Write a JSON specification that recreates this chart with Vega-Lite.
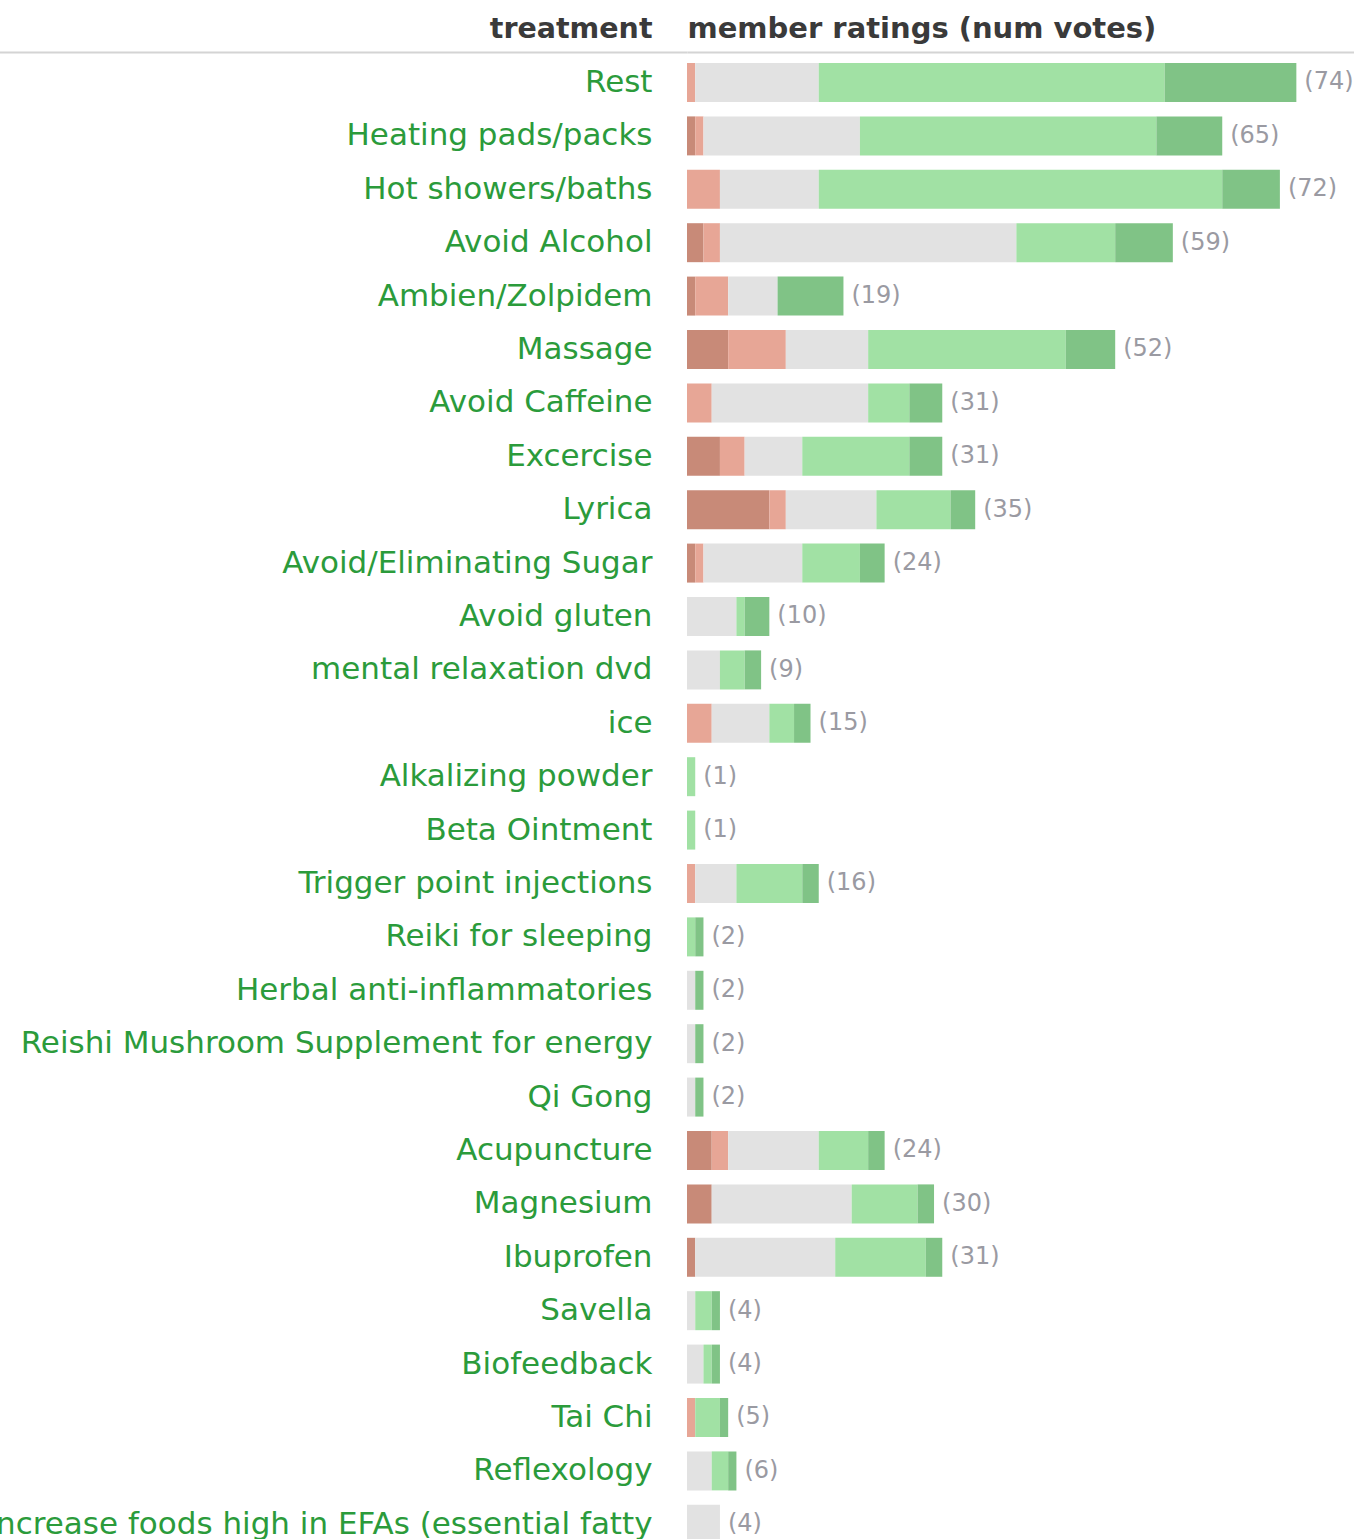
{
  "$schema": "https://vega.github.io/schema/vega-lite/v6.json",
  "autosize": {"type": "none"},
  "padding": {"left": 687, "top": 52, "right": 0, "bottom": 0},
  "width": 667,
  "height": {"step": 53.4},
  "background": "white",
  "datasets": {
    "ratings": [
      {"treatment": "Rest", "effect": "minor negative", "votes": 1},
      {"treatment": "Rest", "effect": "no effect", "votes": 15},
      {"treatment": "Rest", "effect": "minor positive", "votes": 42},
      {"treatment": "Rest", "effect": "major positive", "votes": 16},
      {"treatment": "Heating pads/packs", "effect": "major negative", "votes": 1},
      {"treatment": "Heating pads/packs", "effect": "minor negative", "votes": 1},
      {"treatment": "Heating pads/packs", "effect": "no effect", "votes": 19},
      {"treatment": "Heating pads/packs", "effect": "minor positive", "votes": 36},
      {"treatment": "Heating pads/packs", "effect": "major positive", "votes": 8},
      {"treatment": "Hot showers/baths", "effect": "minor negative", "votes": 4},
      {"treatment": "Hot showers/baths", "effect": "no effect", "votes": 12},
      {"treatment": "Hot showers/baths", "effect": "minor positive", "votes": 49},
      {"treatment": "Hot showers/baths", "effect": "major positive", "votes": 7},
      {"treatment": "Avoid Alcohol", "effect": "major negative", "votes": 2},
      {"treatment": "Avoid Alcohol", "effect": "minor negative", "votes": 2},
      {"treatment": "Avoid Alcohol", "effect": "no effect", "votes": 36},
      {"treatment": "Avoid Alcohol", "effect": "minor positive", "votes": 12},
      {"treatment": "Avoid Alcohol", "effect": "major positive", "votes": 7},
      {"treatment": "Ambien/Zolpidem", "effect": "major negative", "votes": 1},
      {"treatment": "Ambien/Zolpidem", "effect": "minor negative", "votes": 4},
      {"treatment": "Ambien/Zolpidem", "effect": "no effect", "votes": 6},
      {"treatment": "Ambien/Zolpidem", "effect": "major positive", "votes": 8},
      {"treatment": "Massage", "effect": "major negative", "votes": 5},
      {"treatment": "Massage", "effect": "minor negative", "votes": 7},
      {"treatment": "Massage", "effect": "no effect", "votes": 10},
      {"treatment": "Massage", "effect": "minor positive", "votes": 24},
      {"treatment": "Massage", "effect": "major positive", "votes": 6},
      {"treatment": "Avoid Caffeine", "effect": "minor negative", "votes": 3},
      {"treatment": "Avoid Caffeine", "effect": "no effect", "votes": 19},
      {"treatment": "Avoid Caffeine", "effect": "minor positive", "votes": 5},
      {"treatment": "Avoid Caffeine", "effect": "major positive", "votes": 4},
      {"treatment": "Excercise", "effect": "major negative", "votes": 4},
      {"treatment": "Excercise", "effect": "minor negative", "votes": 3},
      {"treatment": "Excercise", "effect": "no effect", "votes": 7},
      {"treatment": "Excercise", "effect": "minor positive", "votes": 13},
      {"treatment": "Excercise", "effect": "major positive", "votes": 4},
      {"treatment": "Lyrica", "effect": "major negative", "votes": 10},
      {"treatment": "Lyrica", "effect": "minor negative", "votes": 2},
      {"treatment": "Lyrica", "effect": "no effect", "votes": 11},
      {"treatment": "Lyrica", "effect": "minor positive", "votes": 9},
      {"treatment": "Lyrica", "effect": "major positive", "votes": 3},
      {"treatment": "Avoid/Eliminating Sugar", "effect": "major negative", "votes": 1},
      {"treatment": "Avoid/Eliminating Sugar", "effect": "minor negative", "votes": 1},
      {"treatment": "Avoid/Eliminating Sugar", "effect": "no effect", "votes": 12},
      {"treatment": "Avoid/Eliminating Sugar", "effect": "minor positive", "votes": 7},
      {"treatment": "Avoid/Eliminating Sugar", "effect": "major positive", "votes": 3},
      {"treatment": "Avoid gluten", "effect": "no effect", "votes": 6},
      {"treatment": "Avoid gluten", "effect": "minor positive", "votes": 1},
      {"treatment": "Avoid gluten", "effect": "major positive", "votes": 3},
      {"treatment": "mental relaxation dvd", "effect": "no effect", "votes": 4},
      {"treatment": "mental relaxation dvd", "effect": "minor positive", "votes": 3},
      {"treatment": "mental relaxation dvd", "effect": "major positive", "votes": 2},
      {"treatment": "ice", "effect": "minor negative", "votes": 3},
      {"treatment": "ice", "effect": "no effect", "votes": 7},
      {"treatment": "ice", "effect": "minor positive", "votes": 3},
      {"treatment": "ice", "effect": "major positive", "votes": 2},
      {"treatment": "Alkalizing powder", "effect": "minor positive", "votes": 1},
      {"treatment": "Beta Ointment", "effect": "minor positive", "votes": 1},
      {"treatment": "Trigger point injections", "effect": "minor negative", "votes": 1},
      {"treatment": "Trigger point injections", "effect": "no effect", "votes": 5},
      {"treatment": "Trigger point injections", "effect": "minor positive", "votes": 8},
      {"treatment": "Trigger point injections", "effect": "major positive", "votes": 2},
      {"treatment": "Reiki for sleeping", "effect": "minor positive", "votes": 1},
      {"treatment": "Reiki for sleeping", "effect": "major positive", "votes": 1},
      {"treatment": "Herbal anti-inflammatories", "effect": "no effect", "votes": 1},
      {"treatment": "Herbal anti-inflammatories", "effect": "major positive", "votes": 1},
      {"treatment": "Reishi Mushroom Supplement for energy", "effect": "no effect", "votes": 1},
      {"treatment": "Reishi Mushroom Supplement for energy", "effect": "major positive", "votes": 1},
      {"treatment": "Qi Gong", "effect": "no effect", "votes": 1},
      {"treatment": "Qi Gong", "effect": "major positive", "votes": 1},
      {"treatment": "Acupuncture", "effect": "major negative", "votes": 3},
      {"treatment": "Acupuncture", "effect": "minor negative", "votes": 2},
      {"treatment": "Acupuncture", "effect": "no effect", "votes": 11},
      {"treatment": "Acupuncture", "effect": "minor positive", "votes": 6},
      {"treatment": "Acupuncture", "effect": "major positive", "votes": 2},
      {"treatment": "Magnesium", "effect": "major negative", "votes": 3},
      {"treatment": "Magnesium", "effect": "no effect", "votes": 17},
      {"treatment": "Magnesium", "effect": "minor positive", "votes": 8},
      {"treatment": "Magnesium", "effect": "major positive", "votes": 2},
      {"treatment": "Ibuprofen", "effect": "major negative", "votes": 1},
      {"treatment": "Ibuprofen", "effect": "no effect", "votes": 17},
      {"treatment": "Ibuprofen", "effect": "minor positive", "votes": 11},
      {"treatment": "Ibuprofen", "effect": "major positive", "votes": 2},
      {"treatment": "Savella", "effect": "no effect", "votes": 1},
      {"treatment": "Savella", "effect": "minor positive", "votes": 2},
      {"treatment": "Savella", "effect": "major positive", "votes": 1},
      {"treatment": "Biofeedback", "effect": "no effect", "votes": 2},
      {"treatment": "Biofeedback", "effect": "minor positive", "votes": 1},
      {"treatment": "Biofeedback", "effect": "major positive", "votes": 1},
      {"treatment": "Tai Chi", "effect": "minor negative", "votes": 1},
      {"treatment": "Tai Chi", "effect": "minor positive", "votes": 3},
      {"treatment": "Tai Chi", "effect": "major positive", "votes": 1},
      {"treatment": "Reflexology", "effect": "no effect", "votes": 3},
      {"treatment": "Reflexology", "effect": "minor positive", "votes": 2},
      {"treatment": "Reflexology", "effect": "major positive", "votes": 1},
      {"treatment": "Increase foods high in EFAs (essential fatty acids)", "effect": "no effect", "votes": 4}
    ]
  },
  "data": {"name": "ratings"},
  "layer": [
    {
      "transform": [
        {"calculate": "indexof(['major negative', 'minor negative', 'no effect', 'minor positive', 'major positive'], datum.effect)", "as": "stackOrder"}
      ],
      "mark": {"type": "bar"},
      "encoding": {
        "y": {
          "field": "treatment",
          "type": "nominal",
          "sort": null,
          "scale": {"paddingInner": 0.27, "paddingOuter": 0.206},
          "axis": {
            "title": "treatment",
            "titleAngle": 0,
            "titleAlign": "right",
            "titleBaseline": "alphabetic",
            "titleX": -35,
            "titleY": -14,
            "titleFont": "DejaVu Sans",
            "titleFontSize": 28.5,
            "titleFontWeight": "bold",
            "titleColor": "#3a3a3a",
            "labelFont": "DejaVu Sans",
            "labelFontSize": 31,
            "labelColor": "#2b9b3b",
            "labelLimit": 3000,
            "labelAlign": "right",
            "labelBaseline": "middle",
            "labelLineHeight": 38,
            "labelExpr": "datum.value == 'Increase foods high in EFAs (essential fatty acids)' ? ['Increase foods high in EFAs (essential fatty', 'acids)'] : datum.label",
            "domain": false,
            "ticks": true,
            "tickSize": 690,
            "tickWidth": 2,
            "tickColor": "#d4d4d4",
            "tickOffset": -30.5,
            "labelOffset": 30.5,
            "tickOpacity": {"condition": {"test": "datum.value === 'Rest'", "value": 1}, "value": 0},
            "labelPadding": -655,
            "grid": false
          }
        },
        "x": {
          "field": "votes",
          "type": "quantitative",
          "aggregate": "sum",
          "stack": "zero",
          "scale": {"domain": [0, 81], "nice": false},
          "axis": {
            "orient": "top",
            "title": "member ratings (num votes)",
            "titleAnchor": "start",
            "titleAlign": "left",
            "titleBaseline": "alphabetic",
            "titleX": 0,
            "titleY": -14,
            "titleFont": "DejaVu Sans",
            "titleFontSize": 29,
            "titleFontWeight": "bold",
            "titleColor": "#3a3a3a",
            "labels": false,
            "ticks": false,
            "grid": false,
            "domain": true,
            "domainColor": "#d4d4d4",
            "domainWidth": 2
          }
        },
        "order": {"field": "stackOrder", "type": "quantitative", "sort": "ascending"},
        "color": {
          "field": "effect",
          "type": "nominal",
          "scale": {
            "domain": ["major negative", "minor negative", "no effect", "minor positive", "major positive"],
            "range": ["#c88a78", "#e7a696", "#e2e2e2", "#a1e1a4", "#80c386"]
          },
          "legend": null
        }
      }
    },
    {
      "transform": [
        {"aggregate": [{"op": "sum", "field": "votes", "as": "total"}], "groupby": ["treatment"]},
        {"calculate": "'(' + datum.total + ')'", "as": "countLabel"}
      ],
      "mark": {"type": "text", "align": "left", "baseline": "middle", "dx": 8, "font": "DejaVu Sans", "fontSize": 24, "color": "#9a9aa2"},
      "encoding": {
        "y": {"field": "treatment", "type": "nominal", "sort": null},
        "x": {"field": "total", "type": "quantitative"},
        "text": {"field": "countLabel"}
      }
    }
  ],
  "config": {
    "view": {"stroke": null}
  }
}
